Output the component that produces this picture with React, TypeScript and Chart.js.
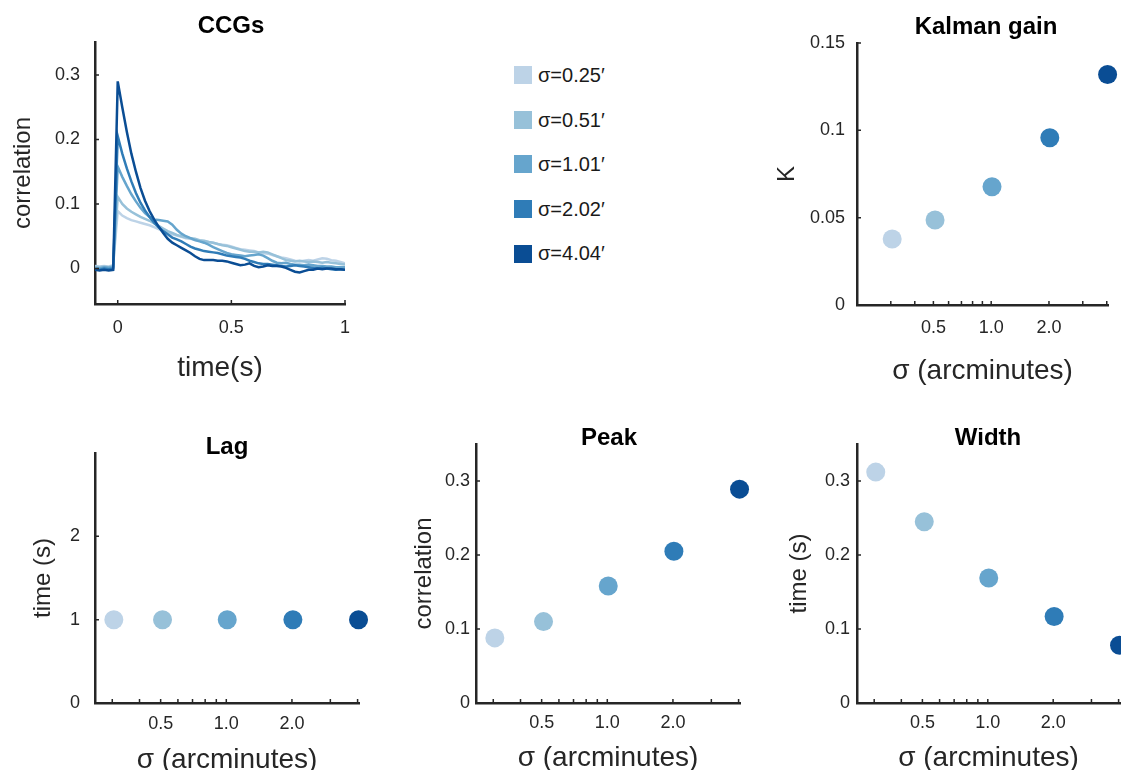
import React, { useEffect, useRef } from 'react';
import { Chart, registerables } from 'chart.js';

Chart.register(...registerables);

const FONT = '"Liberation Sans", Arial, Helvetica, sans-serif';
const AXIS = '#262626';
Chart.defaults.font.family = FONT;

// ---------- data ----------
const sigmaLabels = ['0.25', '0.51', '1.01', '2.02', '4.04'];
const sigmaX = [0.305, 0.51, 1.01, 2.02, 4.04];
const sigmaColors = ['#bdd3e7', '#97c1d9', '#66a5cd', '#2f7cb7', '#0a4d94'];

const kalmanK = [0.0378, 0.0487, 0.0677, 0.0958, 0.132];
const lagSeconds = [1, 1, 1, 1, 1];
const peakCorr = [0.088, 0.11, 0.158, 0.205, 0.289];
const widthSeconds = [0.312, 0.245, 0.169, 0.117, 0.078];

const ccgTime = [
  -0.1, -0.08, -0.06, -0.04, -0.02, 0, 0.02, 0.04, 0.06, 0.08, 0.1, 0.12, 0.14, 0.16, 0.18, 0.2,
  0.22, 0.24, 0.26, 0.28, 0.3, 0.32, 0.34, 0.36, 0.38, 0.4, 0.42, 0.44, 0.46, 0.48, 0.5, 0.52,
  0.54, 0.56, 0.58, 0.6, 0.62, 0.64, 0.66, 0.68, 0.7, 0.72, 0.74, 0.76, 0.78, 0.8, 0.82, 0.84,
  0.86, 0.88, 0.9, 0.92, 0.94, 0.96, 0.98, 1.0,
];
const ccgSigma025 = [
  0.004, 0.003, 0.004, 0.003, 0.005,
  0.089, 0.082, 0.078, 0.075, 0.073, 0.071, 0.069, 0.067, 0.064, 0.061, 0.058, 0.055, 0.053,
  0.051, 0.049, 0.047, 0.046, 0.044, 0.043, 0.042, 0.041, 0.04, 0.038, 0.037, 0.036, 0.034,
  0.032, 0.03, 0.029, 0.028, 0.027, 0.025, 0.024, 0.023, 0.021, 0.019, 0.017, 0.016, 0.014,
  0.012, 0.011, 0.012, 0.013, 0.012, 0.014, 0.016, 0.015, 0.013, 0.012, 0.01, 0.008,
];
const ccgSigma051 = [
  0.003, 0.002, 0.003, 0.002, 0.004,
  0.111, 0.1, 0.093, 0.088, 0.084, 0.08, 0.077, 0.074, 0.07, 0.066, 0.062, 0.058, 0.055, 0.052,
  0.05, 0.048, 0.047, 0.046, 0.044, 0.043, 0.041, 0.04, 0.038, 0.036, 0.035, 0.033, 0.031,
  0.029, 0.027, 0.026, 0.026, 0.025, 0.026, 0.025, 0.022, 0.019, 0.016, 0.013, 0.012, 0.011,
  0.012, 0.011, 0.01, 0.011, 0.01, 0.009, 0.01, 0.009, 0.008, 0.007, 0.006,
];
const ccgSigma101 = [
  0.001, 0.0, 0.002, 0.001, 0.002,
  0.158, 0.142, 0.128, 0.115, 0.104, 0.094, 0.086, 0.08, 0.076, 0.075, 0.074, 0.073, 0.068,
  0.06, 0.054, 0.05, 0.047, 0.044, 0.042, 0.04, 0.037, 0.033, 0.03, 0.027, 0.024, 0.022, 0.021,
  0.02, 0.019, 0.02, 0.021, 0.022, 0.02, 0.016, 0.012, 0.009, 0.008, 0.009, 0.007, 0.006,
  0.006, 0.005, 0.006, 0.005, 0.004, 0.004, 0.003, 0.003, 0.002, 0.002, 0.002,
];
const ccgSigma202 = [
  -0.001, -0.002, 0.0, -0.001, 0.0,
  0.205, 0.178, 0.155, 0.135, 0.117, 0.102, 0.09, 0.08, 0.071, 0.064, 0.058, 0.053, 0.048,
  0.045, 0.042, 0.038, 0.034, 0.031, 0.029, 0.027, 0.026, 0.025, 0.024, 0.022, 0.02, 0.019,
  0.018, 0.017, 0.015, 0.012, 0.01, 0.008, 0.007, 0.007, 0.006, 0.005, 0.004, 0.003, 0.004,
  0.005, 0.004, 0.003, 0.002, 0.001, 0.0, 0.001, 0.0, -0.001, -0.002, -0.001, -0.002,
];
const ccgSigma404 = [
  -0.002, -0.003, -0.002, -0.003, -0.002,
  0.29, 0.25, 0.212, 0.178, 0.15, 0.125, 0.105, 0.089, 0.076, 0.065, 0.055, 0.046, 0.04, 0.036,
  0.032, 0.028, 0.024, 0.019, 0.015, 0.013, 0.013, 0.013, 0.012, 0.012, 0.011, 0.009, 0.007,
  0.005, 0.006, 0.008, 0.004, 0.002, 0.003, 0.005, 0.004, 0.004, 0.003, 0.001, -0.002, -0.005,
  -0.006, -0.004, -0.002, -0.002, 0.0, -0.001, 0.0, 0.0, -0.001, -0.001, -0.002,
];
const ccgSeries = [ccgSigma025, ccgSigma051, ccgSigma101, ccgSigma202, ccgSigma404];

const ccgXTicks = [0, 0.5, 1];
const ccgYTicks = [0, 0.1, 0.2, 0.3];
const kalmanYTicks = [0, 0.05, 0.1, 0.15];
const lagYTicks = [0, 1, 2];
const corrYTicks = [0, 0.1, 0.2, 0.3];
const sigmaTicks = [0.3, 0.4, 0.5, 0.6, 0.7, 0.8, 0.9, 1, 2, 3, 4];
const sigmaTickLabels = [0.5, 1, 2];

// ---------- layout constants ----------
const LW = 90;
const XB = 90;
const TITLE_SIZE = 24;
const TICK_SIZE = 18;

const inwardTicks = {
  id: 'inwardTicks',
  afterDraw(chart: any) {
    const { ctx, chartArea } = chart;
    const xs = chart.scales.x;
    const ys = chart.scales.y;
    ctx.save();
    ctx.strokeStyle = AXIS;
    ctx.lineWidth = 1.5;
    ctx.beginPath();
    for (const t of xs.ticks) {
      const px = xs.getPixelForValue(t.value);
      ctx.moveTo(px, chartArea.bottom);
      ctx.lineTo(px, chartArea.bottom - 4);
    }
    for (const t of ys.ticks) {
      const py = ys.getPixelForValue(t.value);
      ctx.moveTo(chartArea.left, py);
      ctx.lineTo(chartArea.left + 4, py);
    }
    ctx.stroke();
    ctx.restore();
  },
};

const setTicks = (vals: number[]) => (sc: any) => {
  sc.ticks = vals.map((v) => ({ value: v }));
};

const logX = (min: number, max: number) => ({
  type: 'logarithmic',
  min,
  max,
  afterBuildTicks: setTicks(sigmaTicks),
  ticks: {
    callback: (v: any) => (sigmaTickLabels.includes(Number(v)) ? Number(v).toFixed(1) : ''),
  },
});

const linY = (min: number, max: number, ticks: number[]) => ({
  type: 'linear',
  min,
  max,
  afterBuildTicks: setTicks(ticks),
  ticks: { callback: (v: any) => String(v) },
});

const scatterData = (vals: number[]) => ({
  datasets: [
    {
      data: sigmaX.map((x, i) => ({ x, y: vals[i] })),
      pointBackgroundColor: sigmaColors,
      pointBorderColor: sigmaColors,
      pointBorderWidth: 0,
      borderWidth: 0,
      pointRadius: 9.5,
      clip: false,
    },
  ],
});

type Spec = {
  id: string;
  type: string;
  area: number[];
  title: string;
  titleCx: number;
  titleLh: number;
  titlePb: number;
  yTitle: string;
  yTitleCx: number;
  xTitle: string;
  xTitleCy: number;
  yTickPad: number;
  xTickPad: number;
  data: any;
  xScale: any;
  yScale: any;
};

const specs: Spec[] = [
  {
    id: 'ccg',
    type: 'line',
    area: [95, 42, 345, 304],
    title: 'CCGs',
    titleCx: 231,
    titleLh: 1,
    titlePb: 4,
    yTitle: 'correlation',
    yTitleCx: 23,
    xTitle: 'time(s)',
    xTitleCy: 368,
    yTickPad: 15,
    xTickPad: 15,
    data: {
      datasets: ccgSeries.map((s, i) => ({
        data: s.map((v, k) => ({ x: ccgTime[k], y: v })),
        borderColor: sigmaColors[i],
        borderWidth: 2.5,
        pointRadius: 0,
        tension: 0,
        fill: false,
        order: ccgSeries.length - i,
      })),
    },
    xScale: { type: 'linear', min: -0.1, max: 1, afterBuildTicks: setTicks(ccgXTicks), ticks: { callback: (v: any) => String(v) } },
    yScale: linY(-0.055, 0.351, ccgYTicks),
  },
  {
    id: 'kalman',
    type: 'scatter',
    area: [857, 43, 1108, 305],
    title: 'Kalman gain',
    titleCx: 986,
    titleLh: 1,
    titlePb: 4,
    yTitle: 'K',
    yTitleCx: 787,
    xTitle: 'σ (arcminutes)',
    xTitleCy: 371,
    yTickPad: 12,
    xTickPad: 14,
    data: scatterData(kalmanK),
    xScale: logX(0.2, 4.06),
    yScale: linY(0, 0.15, kalmanYTicks),
  },
  {
    id: 'lag',
    type: 'scatter',
    area: [95, 444, 359, 703],
    title: 'Lag',
    titleCx: 227,
    titleLh: 0.45,
    titlePb: 0,
    yTitle: 'time (s)',
    yTitleCx: 43,
    xTitle: 'σ (arcminutes)',
    xTitleCy: 760,
    yTickPad: 15,
    xTickPad: 12,
    data: scatterData(lagSeconds),
    xScale: logX(0.25, 4.06),
    yScale: linY(0, 3, lagYTicks),
  },
  {
    id: 'peak',
    type: 'scatter',
    area: [476, 444, 740, 703],
    title: 'Peak',
    titleCx: 609,
    titleLh: 0.5,
    titlePb: 0,
    yTitle: 'correlation',
    yTitleCx: 424,
    xTitle: 'σ (arcminutes)',
    xTitleCy: 758,
    yTickPad: 6,
    xTickPad: 11,
    data: scatterData(peakCorr),
    xScale: logX(0.25, 4.06),
    yScale: linY(0, 0.35, corrYTicks),
  },
  {
    id: 'width',
    type: 'scatter',
    area: [857, 444, 1120, 703],
    title: 'Width',
    titleCx: 988,
    titleLh: 0.5,
    titlePb: 0,
    yTitle: 'time (s)',
    yTitleCx: 799,
    xTitle: 'σ (arcminutes)',
    xTitleCy: 758,
    yTickPad: 7,
    xTickPad: 11,
    data: scatterData(widthSeconds),
    xScale: logX(0.25, 4.06),
    yScale: linY(0, 0.35, corrYTicks),
  },
];

function geometry(s: Spec) {
  const [l, t, r, b] = s.area;
  const x0 = l - LW;
  const W = Math.round(2 * (s.titleCx - x0));
  const R = W - LW - (r - l);
  const LH = TITLE_SIZE * s.titleLh;
  const y0 = Math.floor(t - (4 + LH + s.titlePb));
  const pt = t - y0 - LH - s.titlePb;
  const H = t - y0 + (b - t) + XB;
  return { x0, y0, W, H, R, pt };
}

function Panel({ spec }: { spec: Spec }) {
  const ref = useRef<HTMLCanvasElement>(null);
  const g = geometry(spec);
  useEffect(() => {
    if (!ref.current) return;
    const s = spec;
    const yTitlePad = s.yTitleCx - g.x0 - 12;
    const xTitlePad = s.area[3] + XB - 14 - s.xTitleCy;
    const chart = new Chart(ref.current, {
      type: s.type as any,
      data: s.data,
      options: {
        responsive: false,
        maintainAspectRatio: false,
        animation: false,
        events: [],
        layout: { padding: 0 },
        plugins: {
          legend: { display: false },
          tooltip: { enabled: false },
          title: {
            display: true,
            text: s.title,
            color: '#000',
            font: { family: FONT, size: TITLE_SIZE, weight: 'bold', lineHeight: s.titleLh },
            padding: { top: g.pt, bottom: s.titlePb },
          },
        },
        scales: {
          x: {
            ...s.xScale,
            position: 'bottom',
            afterFit: (sc: any) => {
              sc.height = XB;
            },
            grid: { display: false, drawTicks: false },
            border: { display: true, color: AXIS, width: 2.5 },
            ticks: {
              ...s.xScale.ticks,
              padding: s.xTickPad,
              color: AXIS,
              font: { family: FONT, size: TICK_SIZE, lineHeight: 1 },
              autoSkip: false,
              maxRotation: 0,
              minRotation: 0,
            },
            title: {
              display: true,
              text: s.xTitle,
              color: AXIS,
              font: { family: FONT, size: 28, lineHeight: 1 },
              padding: { top: 0, bottom: xTitlePad },
            },
          },
          y: {
            ...s.yScale,
            position: 'left',
            afterFit: (sc: any) => {
              sc.width = LW;
            },
            grid: { display: false, drawTicks: false },
            border: { display: true, color: AXIS, width: 2.5 },
            ticks: {
              ...s.yScale.ticks,
              padding: s.yTickPad,
              color: AXIS,
              font: { family: FONT, size: TICK_SIZE, lineHeight: 1 },
              autoSkip: false,
            },
            title: {
              display: true,
              text: s.yTitle,
              color: AXIS,
              font: { family: FONT, size: 24, lineHeight: 1 },
              padding: { top: yTitlePad, bottom: 0 },
            },
          },
          pad: {
            type: 'linear',
            position: 'right',
            display: true,
            grid: { display: false },
            border: { display: false },
            ticks: { display: false },
            afterFit: (sc: any) => {
              sc.width = g.R;
            },
          },
        },
      } as any,
      plugins: [inwardTicks],
    });
    return () => chart.destroy();
  }, []);
  return (
    <canvas
      ref={ref}
      width={g.W}
      height={g.H}
      style={{ position: 'absolute', left: g.x0, top: g.y0, width: g.W, height: g.H }}
    />
  );
}

const LEGEND_X = 514;
const LEGEND_Y0 = 75;
const LEGEND_STEP = 44.6;
const LEGEND_BOX = 17.5;

export default function App() {
  return (
    <div
      style={{
        position: 'fixed',
        left: 0,
        top: 0,
        width: 1121,
        height: 770,
        overflow: 'hidden',
        background: '#fff',
      }}
    >
      {specs.map((s) => (
        <Panel key={s.id} spec={s} />
      ))}
      {sigmaLabels.map((lbl, i) => {
        const cy = LEGEND_Y0 + i * LEGEND_STEP;
        return (
          <React.Fragment key={lbl}>
            <div
              style={{
                position: 'absolute',
                left: LEGEND_X,
                top: Math.round(cy - LEGEND_BOX / 2),
                width: LEGEND_BOX,
                height: LEGEND_BOX,
                background: sigmaColors[i],
              }}
            />
            <div
              style={{
                position: 'absolute',
                left: LEGEND_X + 24,
                top: Math.round(cy - 12),
                height: 24,
                lineHeight: '24px',
                fontFamily: FONT,
                fontSize: 20,
                color: '#1a1a1a',
                whiteSpace: 'nowrap',
              }}
            >
              {`σ=${lbl}′`}
            </div>
          </React.Fragment>
        );
      })}
    </div>
  );
}
